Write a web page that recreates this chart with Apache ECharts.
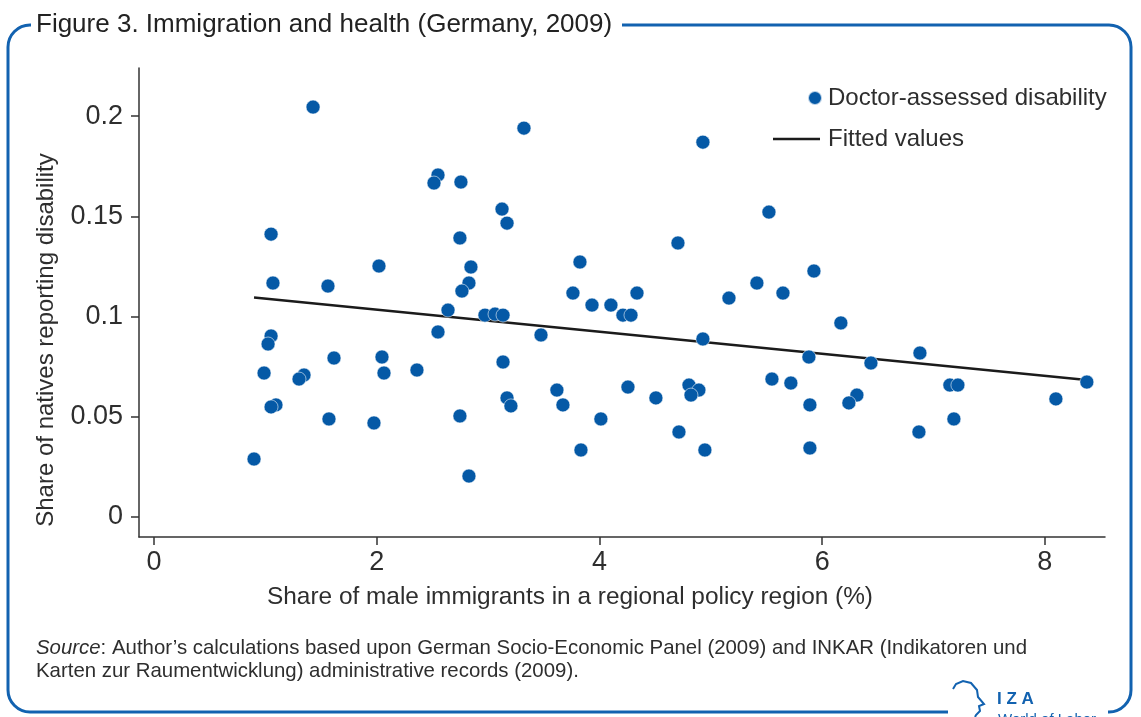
<!DOCTYPE html>
<html>
<head>
<meta charset="utf-8">
<script src="https://cdn.jsdelivr.net/npm/echarts@6/dist/echarts.min.js"></script>
<style>
  html, body { margin: 0; padding: 0; background: #fff; }
  #chartDiv { width: 1141px; height: 717px; }
</style>
</head>
<body>
<div id="chartDiv"></div>
<script type="text/javascript">
  // share of male immigrants in the region (%), one entry per region
  var immigrantShare = [
    1.428, 3.322, 4.929, 2.550, 2.514, 2.756, 3.125, 5.522, 3.170, 1.051,
    2.747, 4.705, 2.020, 2.846, 3.825, 5.926, 1.068, 1.562, 2.828, 5.414,
    2.765, 3.762, 4.337, 5.648, 5.163, 3.933, 4.103, 2.640, 4.211, 4.283,
    2.972, 3.062, 3.134, 6.168, 1.051, 1.024, 2.550, 3.475, 4.929, 1.616,
    2.047, 3.134, 5.881, 6.438, 6.878, 0.988, 2.065, 2.361, 1.347, 1.302,
    5.549, 5.719, 3.618, 4.256, 4.804, 4.893, 4.822, 7.147, 7.219, 8.377,
    1.095, 1.051, 3.170, 3.205, 3.672, 4.507, 5.890, 6.312, 6.240, 8.099,
    1.571, 1.975, 2.747, 4.013, 7.183, 4.714, 6.869, 0.898, 3.834, 4.947,
    5.890, 2.828
  ];
  // share of natives reporting a doctor-assessed disability, same order
  var disabilityShare = [
    0.2045, 0.1940, 0.1870, 0.1706, 0.1666, 0.1671, 0.1536, 0.1521, 0.1466, 0.1411,
    0.1392, 0.1367, 0.1252, 0.1247, 0.1272, 0.1227, 0.1167, 0.1152, 0.1167, 0.1167,
    0.1127, 0.1117, 0.1117, 0.1117, 0.1092, 0.1057, 0.1057, 0.1032, 0.1007, 0.1007,
    0.1007, 0.1012, 0.1007, 0.0968, 0.0903, 0.0863, 0.0923, 0.0908, 0.0888, 0.0793,
    0.0798, 0.0773, 0.0798, 0.0768, 0.0818, 0.0718, 0.0718, 0.0733, 0.0708, 0.0688,
    0.0688, 0.0668, 0.0633, 0.0648, 0.0658, 0.0633, 0.0608, 0.0658, 0.0658, 0.0673,
    0.0559, 0.0549, 0.0594, 0.0554, 0.0559, 0.0594, 0.0559, 0.0608, 0.0569, 0.0589,
    0.0489, 0.0469, 0.0504, 0.0489, 0.0489, 0.0424, 0.0424, 0.0289, 0.0334, 0.0334,
    0.0344, 0.0204
  ];
  // fitted line end points
  var fittedX = [0.898, 8.377];
  var fittedY = [0.1095, 0.0683];

  var xTicks = [0, 2, 4, 6, 8];
  var yTicks = [0, 0.05, 0.1, 0.15, 0.2];

  var scatterData = [];
  for (var i = 0; i < immigrantShare.length; i++) {
    scatterData.push([immigrantShare[i], disabilityShare[i]]);
  }
  var fittedData = [];
  for (var j = 0; j < fittedX.length; j++) {
    fittedData.push([fittedX[j], fittedY[j]]);
  }

  var blue = '#1262b0';
  var dotBlue = '#0559a6';
  var lineBlack = '#1b1b1b';
  var textColor = '#2e2e2e';
  var font = "'Liberation Sans', Arial, sans-serif";

  var myChart = echarts.init(document.getElementById('chartDiv'), null, { renderer: 'canvas' });

  var option = {
    animation: false,
    backgroundColor: '#fff',
    grid: { left: 139, right: 36, top: 68, bottom: 180 },
    xAxis: {
      type: 'value',
      min: -0.135,
      max: 8.54,
      axisLine: { onZero: false, lineStyle: { color: '#333', width: 1.5 } },
      axisTick: { customValues: xTicks, length: 8, lineStyle: { color: '#333', width: 1.5 } },
      axisLabel: { customValues: xTicks, fontSize: 27, color: textColor, fontFamily: font, margin: 12 },
      splitLine: { show: false }
    },
    yAxis: {
      type: 'value',
      min: -0.01,
      max: 0.224,
      axisLine: { show: true, onZero: false, lineStyle: { color: '#333', width: 1.5 } },
      axisTick: { show: true, customValues: yTicks, length: 8, lineStyle: { color: '#333', width: 1.5 } },
      axisLabel: { customValues: yTicks, fontSize: 27, color: textColor, fontFamily: font, margin: 16 },
      splitLine: { show: false }
    },
    legend: [
      {
        data: ['Doctor-assessed disability'],
        left: 807, top: 86, padding: 0,
        itemWidth: 14, itemHeight: 14,
        icon: 'circle',
        selectedMode: false,
        textStyle: { fontSize: 24, color: textColor, fontFamily: font, padding: [0, 0, 0, 1] }
      },
      {
        data: ['Fitted values'],
        left: 773, top: 127, padding: 0,
        itemWidth: 47, itemHeight: 2.5,
        icon: 'rect',
        selectedMode: false,
        itemStyle: { color: lineBlack },
        textStyle: { fontSize: 24, color: textColor, fontFamily: font, padding: [0, 0, 0, 3] }
      }
    ],
    series: [
      {
        name: 'Fitted values',
        type: 'line',
        data: fittedData,
        symbol: 'none',
        z: 2,
        itemStyle: { color: lineBlack },
        lineStyle: { color: lineBlack, width: 2.5 }
      },
      {
        name: 'Doctor-assessed disability',
        type: 'scatter',
        data: scatterData,
        symbolSize: 14,
        z: 3,
        itemStyle: { color: dotBlue, opacity: 1, borderColor: 'rgba(255,255,255,0.7)', borderWidth: 0.8 }
      }
    ],
    graphic: {
      elements: [
        // frame
        { type: 'rect', z: 1,
          shape: { x: 8, y: 25, width: 1123, height: 687, r: 22 },
          style: { fill: 'none', stroke: blue, lineWidth: 3 } },
        // gaps in frame for title and logo
        { type: 'rect', z: 2,
          shape: { x: 31, y: 14, width: 591, height: 22 }, style: { fill: '#fff' } },
        { type: 'rect', z: 2,
          shape: { x: 948, y: 703, width: 160, height: 14 }, style: { fill: '#fff' } },
        { type: 'text', x: 36, y: 25, z: 3,
          style: { text: 'Figure 3. Immigration and health (Germany, 2009)', fontSize: 26,
                   fontFamily: font, fill: '#222', verticalAlign: 'middle' } },
        // axis titles
        { type: 'text', x: 46, y: 340, rotation: Math.PI / 2, z: 3,
          style: { text: 'Share of natives reporting disability', fontSize: 24, fontFamily: font,
                   fill: textColor, align: 'center', verticalAlign: 'middle' } },
        { type: 'text', x: 570, y: 597, z: 3,
          style: { text: 'Share of male immigrants in a regional policy region (%)', fontSize: 24.4, fontFamily: font,
                   fill: textColor, align: 'center', verticalAlign: 'middle' } },
        // source note
        { type: 'text', x: 36, y: 637, z: 3,
          style: {
            text: '{i|Source}: Author\u2019s calculations based upon German Socio-Economic Panel (2009) and INKAR (Indikatoren und\nKarten zur Raumentwicklung) administrative records (2009).',
            fontSize: 20.4, fontFamily: font, fill: textColor, lineHeight: 23,
            rich: { i: { fontStyle: 'italic', fontSize: 20.4, fontFamily: font, fill: textColor } }
          } },
        // logo
        { type: 'polyline', z: 3,
          shape: { points: [[953, 689], [956, 684], [963, 681], [971, 683], [977, 690], [978, 697], [984, 704], [979, 706], [980, 711], [976, 715], [975, 717]] },
          style: { stroke: blue, lineWidth: 2, fill: 'none' } },
        { type: 'text', x: 997, y: 691, z: 3,
          style: { text: 'I Z A', fontSize: 17, fontWeight: 'bold', fontFamily: font, fill: blue } },
        { type: 'text', x: 998, y: 712, z: 3,
          style: { text: 'World of Labor', fontSize: 15, fontFamily: font, fill: blue } }
      ]
    }
  };
  myChart.setOption(option);
</script>
</body>
</html>
